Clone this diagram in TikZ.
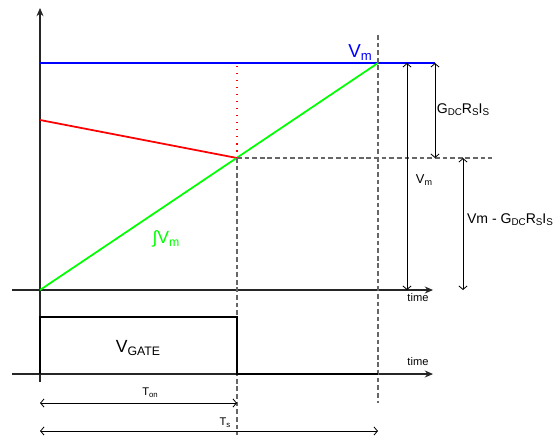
\documentclass[tikz,border=0pt]{standalone}
\usepackage{fontspec}
\setmainfont{Liberation Sans}
\usepackage{graphicx}
\usetikzlibrary{arrows.meta}
\newcommand{\subtxt}[1]{\raisebox{-0.3ex}{\scalebox{0.7}{#1}}}

\begin{document}
\begin{tikzpicture}[x=0.03cm,y=-0.03cm,
    axis/.style={draw=black!85, line width=0.9pt, -{Stealth[length=7pt,width=6pt]}},
    span/.style={line width=0.7pt, {Straight Barb[length=3pt,width=7pt]}-{Straight Barb[length=3pt,width=7pt]}},
    guide/.style={draw=black!60, line width=1pt, dash pattern=on 4pt off 2.5pt},
    trace/.style={line width=1.5pt},
    lbl/.style={inner sep=0pt}]
\useasboundingbox (0,0) rectangle (557,435);

% points
\coordinate (ytop) at (40,8);
\coordinate (ybot) at (40,382);
\coordinate (o) at (40,290);
\coordinate (xend) at (433,290);
\coordinate (xstart) at (12,290);
\coordinate (gstart) at (12,374);
\coordinate (gend) at (433,374);
\coordinate (vmL) at (40,63);
\coordinate (vmR) at (435,63);
\coordinate (peak) at (378,63);
\coordinate (redL) at (40,120);
\coordinate (knee) at (237,158);
\coordinate (kneeTop) at (237,66);
\coordinate (kneeEnd) at (492,158);
\coordinate (kneeBot) at (237,435);
\coordinate (tsTop) at (378,35);
\coordinate (tsBot) at (378,403);

% axes
\draw[axis] (ybot) -- (ytop);
\draw[axis] (xstart) -- (xend);
\draw[axis] (gstart) -- (gend);
\node[lbl, font=\fontsize{9.5}{11}\selectfont] (time1) at (418,298) {time};
\node[lbl, font=\fontsize{9.5}{11}\selectfont] (time2) at (418,362) {time};

% traces
\draw[trace, blue] (vmL) -- (vmR);
\draw[trace, red] (redL) -- (knee);
\draw[trace, green] (o) -- (peak);
\draw[red, line width=1pt, dash pattern=on 1pt off 5pt] (kneeTop) -- (knee);
\node[lbl, blue, font=\fontsize{16}{18}\selectfont] (vmlbl) at (360,53) {V\subtxt{m}};
\node[lbl, green, font=\fontsize{15}{17}\selectfont] (intlbl) at (166,239) {∫V\subtxt{m}};

% guides
\draw[guide] (knee) -- (kneeEnd);
\draw[guide] (knee) -- (kneeBot);
\draw[guide] (tsTop) -- (tsBot);

% spans
\coordinate (a1) at (407,63);
\coordinate (a2) at (407,290);
\coordinate (b1) at (435,63);
\coordinate (b2) at (435,158);
\coordinate (c1) at (463,158);
\coordinate (c2) at (463,290);
\draw[span] (a1) -- (a2);
\draw[span] (b1) -- (b2);
\draw[span] (c1) -- (c2);
\node[lbl, font=\fontsize{11}{13}\selectfont] (vmside) at (424,180) {V\subtxt{m}};
\node[lbl, font=\fontsize{12}{14}\selectfont] (gdc) at (463,110) {G\subtxt{DC}R\subtxt{S}I\subtxt{S}};
\node[lbl, font=\fontsize{12}{14}\selectfont] (diff) at (510,220) {Vm - G\subtxt{DC}R\subtxt{S}I\subtxt{S}};

% gate pulse
\coordinate (p1) at (40,374);
\coordinate (p2) at (40,317);
\coordinate (p3) at (237,317);
\coordinate (p4) at (237,374);
\coordinate (p5) at (378,374);
\draw[line width=1.6pt] (p1) -- (p2) -- (p3) -- (p4) -- (p5);
\node[lbl, font=\fontsize{15}{17}\selectfont] (gate) at (138,348) {V\subtxt{GATE}};

% times
\coordinate (t0) at (40,403);
\coordinate (t1) at (237,403);
\coordinate (s0) at (40,431);
\coordinate (s1) at (378,431);
\draw[span] (t0) -- (t1);
\draw[span] (s0) -- (s1);
\node[lbl, font=\fontsize{9.5}{11}\selectfont] (ton) at (150,393) {T\subtxt{on}};
\node[lbl, font=\fontsize{9.5}{11}\selectfont] (ts) at (225,423) {T\subtxt{s}};
\end{tikzpicture}
\end{document}
